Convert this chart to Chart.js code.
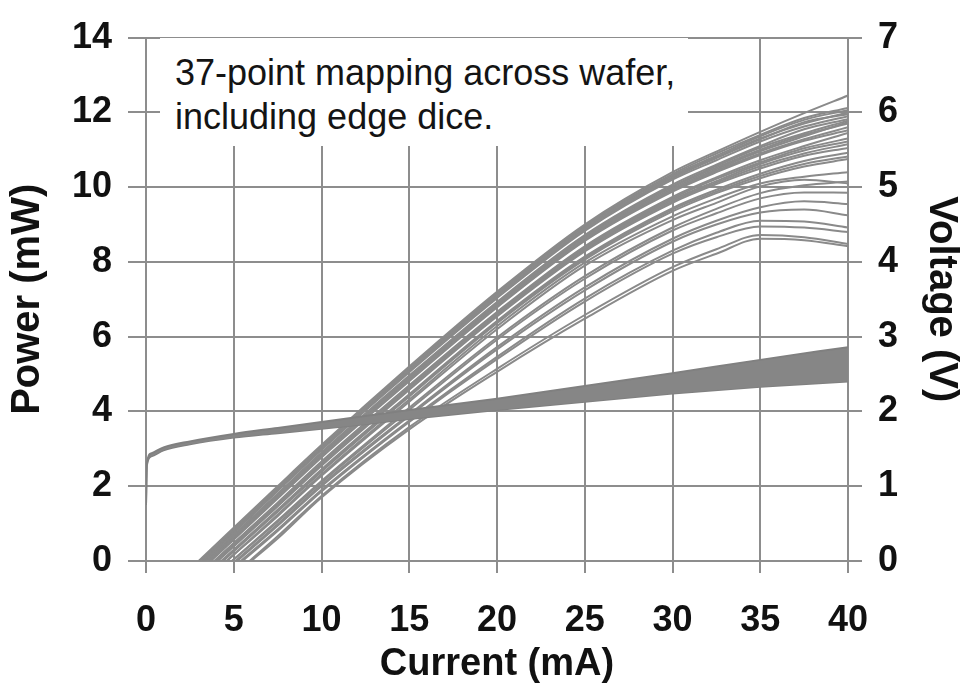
<!DOCTYPE html>
<html>
<head>
<meta charset="utf-8">
<script src="https://cdn.jsdelivr.net/npm/chart.js@4.4.0/dist/chart.umd.min.js"></script>
<style>
  html, body { margin: 0; padding: 0; background: #fff; }
  #wrap { position: relative; width: 964px; height: 694px; }
  #note {
    position: absolute; left: 160px; top: 38px; width: 513px; height: 95px;
    padding: 13px 0 0 15px; background: #fff; color: #141414;
    font-family: 'Liberation Sans', Arial, sans-serif; font-size: 36px; line-height: 44px;
    white-space: nowrap;
  }
</style>
</head>
<body>
<div id="wrap">
  <canvas id="c" width="964" height="694"></canvas>
  <div id="note">37-point mapping across wafer,<br>including edge dice.</div>
</div>
<script>
// ---- data ----
// L-I curves: lasing threshold (mA) for each die, then optical power (mW) at liCurrents
const liCurrents = [7.5, 10, 15, 20, 25, 30, 32.5, 35, 37.5, 40];
const thresholds = [3.0, 3.1, 3.1, 3.2, 3.2, 3.3,
                    3.4, 3.5, 3.5, 3.6, 3.6, 3.7,
                    3.9, 3.9, 4.0, 4.0, 4.1,
                    4.3, 4.3, 4.4,
                    4.6, 4.6, 4.9, 4.9, 5.1, 5.2, 5.4, 5.5, 5.9, 6.0];
const powerCurves = [
  [2.00, 3.10, 5.20, 7.20, 9.00, 10.40, 10.95, 11.48, 11.98, 12.45],
  [1.97, 3.07, 5.17, 7.17, 8.97, 10.35, 10.90, 11.40, 11.85, 12.12],
  [1.95, 3.05, 5.14, 7.14, 8.94, 10.31, 10.84, 11.36, 11.80, 12.06],
  [1.92, 3.02, 5.11, 7.10, 8.90, 10.27, 10.80, 11.30, 11.70, 12.00],
  [1.90, 3.00, 5.08, 7.07, 8.87, 10.24, 10.78, 11.28, 11.74, 11.95],
  [1.87, 2.97, 5.05, 7.03, 8.83, 10.20, 10.72, 11.22, 11.62, 11.90],
  [1.80, 2.90, 4.96, 6.93, 8.72, 10.07, 10.60, 11.10, 11.55, 11.82],
  [1.77, 2.87, 4.93, 6.90, 8.69, 10.03, 10.56, 11.06, 11.44, 11.78],
  [1.75, 2.85, 4.90, 6.87, 8.66, 10.00, 10.52, 11.00, 11.40, 11.70],
  [1.72, 2.82, 4.87, 6.84, 8.62, 9.96, 10.48, 10.96, 11.36, 11.74],
  [1.70, 2.80, 4.84, 6.81, 8.59, 9.92, 10.44, 10.90, 11.28, 11.60],
  [1.67, 2.77, 4.81, 6.78, 8.56, 9.88, 10.40, 10.86, 11.24, 11.52],
  [1.56, 2.66, 4.70, 6.66, 8.42, 9.74, 10.26, 10.72, 11.10, 11.45],
  [1.54, 2.63, 4.67, 6.63, 8.39, 9.70, 10.22, 10.66, 11.04, 11.30],
  [1.51, 2.60, 4.64, 6.60, 8.35, 9.66, 10.16, 10.62, 10.98, 11.22],
  [1.49, 2.58, 4.61, 6.57, 8.32, 9.62, 10.12, 10.56, 10.90, 11.15],
  [1.46, 2.55, 4.58, 6.54, 8.28, 9.58, 10.08, 10.50, 10.84, 11.05],
  [1.37, 2.45, 4.46, 6.42, 8.14, 9.44, 9.93, 10.36, 10.70, 10.92],
  [1.35, 2.42, 4.43, 6.39, 8.10, 9.40, 9.88, 10.30, 10.62, 10.82],
  [1.32, 2.39, 4.40, 6.36, 8.06, 9.35, 9.84, 10.24, 10.55, 10.75],
  [1.24, 2.32, 4.32, 6.28, 7.98, 9.22, 9.70, 10.10, 10.28, 10.40],
  [1.20, 2.28, 4.26, 6.20, 7.90, 9.12, 9.58, 10.02, 10.20, 10.10],
  [1.08, 2.14, 4.10, 5.98, 7.62, 8.92, 9.42, 9.84, 10.05, 10.15],
  [1.05, 2.10, 4.04, 5.92, 7.55, 8.84, 9.30, 9.70, 9.86, 9.85],
  [0.98, 2.04, 3.92, 5.72, 7.32, 8.62, 9.10, 9.46, 9.62, 9.55],
  [0.94, 2.00, 3.88, 5.66, 7.24, 8.54, 9.00, 9.32, 9.40, 9.25],
  [0.84, 1.90, 3.76, 5.46, 7.02, 8.30, 8.78, 9.10, 9.08, 8.92],
  [0.80, 1.86, 3.72, 5.40, 6.94, 8.22, 8.66, 8.95, 8.92, 8.80],
  [0.66, 1.74, 3.58, 5.14, 6.58, 7.86, 8.34, 8.72, 8.66, 8.48],
  [0.60, 1.70, 3.52, 5.06, 6.48, 7.76, 8.22, 8.62, 8.58, 8.42]
];
// V-I band: upper and lower envelope of the voltage curves (V)
const vCurrents    = [0, 0.05, 0.3, 1, 2.5, 5, 7.5, 10, 12.5, 15, 20, 25, 30, 35, 40];
const voltageUpper = [0.75, 1.30, 1.44, 1.52, 1.60, 1.70, 1.78, 1.86, 1.94, 2.02, 2.17, 2.34, 2.51, 2.69, 2.86];
const voltageLower = [0.75, 1.28, 1.40, 1.48, 1.56, 1.65, 1.71, 1.77, 1.83, 1.90, 2.02, 2.13, 2.24, 2.33, 2.40];

// ---- build datasets ----
const curveColor = '#8a8a8a';
const datasets = [];
datasets.push({
  label: 'V upper', yAxisID: 'yV',
  data: vCurrents.map((x, i) => ({ x, y: voltageUpper[i] })),
  borderColor: '#808080', borderWidth: 2, backgroundColor: '#868686',
  fill: '+1', pointRadius: 0, cubicInterpolationMode: 'monotone'
});
datasets.push({
  label: 'V lower', yAxisID: 'yV',
  data: vCurrents.map((x, i) => ({ x, y: voltageLower[i] })),
  borderColor: '#808080', borderWidth: 2, fill: false,
  pointRadius: 0, cubicInterpolationMode: 'monotone'
});
powerCurves.forEach((vals, k) => {
  const pts = [{ x: thresholds[k], y: 0 }].concat(vals.map((y, i) => ({ x: liCurrents[i], y })));
  datasets.push({
    label: 'die ' + (k + 1), yAxisID: 'yP', data: pts,
    borderColor: curveColor, borderWidth: 2, fill: false,
    pointRadius: 0, cubicInterpolationMode: 'monotone'
  });
});

const gridColor = '#8d8d8d';
const fam = "'Liberation Sans', Arial, sans-serif";
const tickFont = { family: fam, size: 36, weight: 'bold', lineHeight: 1.2 };

new Chart(document.getElementById('c'), {
  type: 'line',
  data: { datasets },
  options: {
    responsive: false, animation: false,
    layout: { padding: { top: 28, left: 0, right: 0, bottom: 0 } },
    plugins: { legend: { display: false }, tooltip: { enabled: false } },
    scales: {
      x: {
        type: 'linear', min: 0, max: 40,
        ticks: { stepSize: 5, color: '#111', font: tickFont, padding: 26, maxRotation: 0 },
        grid: { color: gridColor, lineWidth: 2, tickLength: 12 },
        border: { display: true, color: gridColor, width: 2 },
        title: { display: true, text: 'Current (mA)', color: '#111',
                 font: { family: fam, size: 38, weight: 'bold', lineHeight: 1.2 }, padding: { top: 0, bottom: 7 } },
        afterFit: s => { s.height = 133; }
      },
      yP: {
        type: 'linear', position: 'left', min: 0, max: 14,
        ticks: { stepSize: 2, color: '#111', font: tickFont, padding: 16 },
        grid: { color: gridColor, lineWidth: 2, tickLength: 18 },
        border: { display: true, color: gridColor, width: 2 },
        title: { display: true, text: 'Power (mW)', color: '#111',
                 font: { family: fam, size: 40, weight: 'bold', lineHeight: 1.2 }, padding: { top: 4, bottom: 0 } },
        afterFit: s => { s.width = 146; }
      },
      yV: {
        type: 'linear', position: 'right', min: 0, max: 7,
        ticks: { stepSize: 1, color: '#111', font: tickFont, padding: 16 },
        grid: { drawOnChartArea: false, color: gridColor, lineWidth: 2, tickLength: 14 },
        border: { display: true, color: gridColor, width: 2 },
        title: { display: true, text: 'Voltage (V)', color: '#111',
                 font: { family: fam, size: 40, weight: 'bold', lineHeight: 1.0 }, padding: { top: 3, bottom: 0 } },
        afterFit: s => { s.width = 116; }
      }
    }
  }
});
</script>
</body>
</html>
